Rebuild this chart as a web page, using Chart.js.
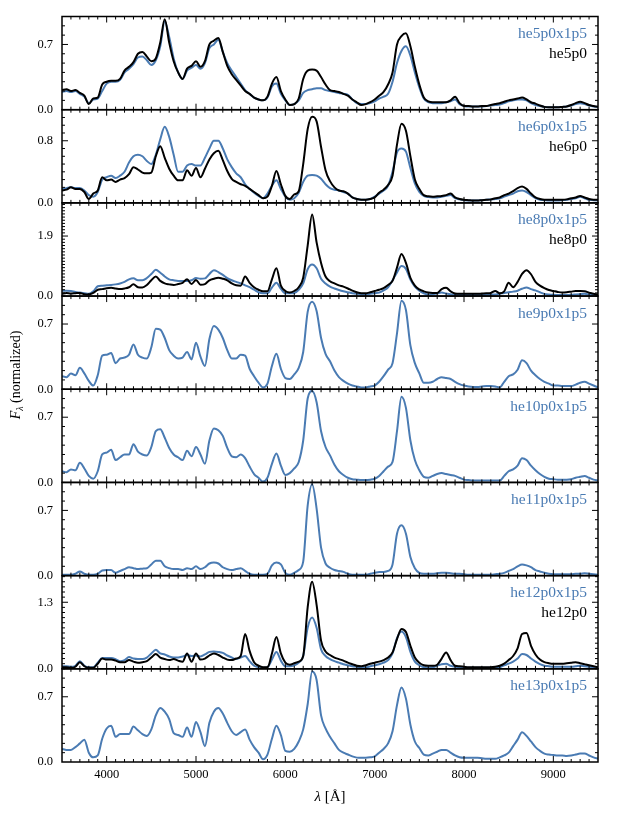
<!DOCTYPE html>
<html lang="en">
<head>
    <meta charset="UTF-8">
    <title>Spectra</title>
    <script src="https://cdn.jsdelivr.net/npm/chart.js"></script>
    <style>
        body { margin: 0; background: #fff; }
        canvas { display: block; }
    </style>
</head>
<body>
    <canvas id="myChart" width="623" height="830"></canvas>
<script>
    // wavelength grid in Angstrom
    var wavelength = [
        3500, 3550, 3600, 3650, 3700, 3750, 3800, 3850, 3900, 3950,
        4000, 4050, 4100, 4150, 4200, 4250, 4300, 4350, 4400, 4450,
        4500, 4550, 4600, 4650, 4700, 4750, 4800, 4850, 4900, 4950,
        5000, 5050, 5100, 5150, 5200, 5250, 5300, 5350, 5400, 5450,
        5500, 5550, 5600, 5650, 5700, 5750, 5800, 5850, 5900, 5950,
        6000, 6050, 6100, 6150, 6200, 6250, 6300, 6350, 6400, 6450,
        6500, 6550, 6600, 6650, 6700, 6750, 6800, 6850, 6900, 6950,
        7000, 7050, 7100, 7150, 7200, 7250, 7300, 7350, 7400, 7450,
        7500, 7550, 7600, 7650, 7700, 7750, 7800, 7850, 7900, 7950,
        8000, 8050, 8100, 8150, 8200, 8250, 8300, 8350, 8400, 8450,
        8500, 8550, 8600, 8650, 8700, 8750, 8800, 8850, 8900, 8950,
        9000, 9050, 9100, 9150, 9200, 9250, 9300, 9350, 9400, 9450,
        9500
    ];

    var he5p0x1p5 = [
        0.19,0.20,0.19,0.20,0.17,0.14,0.07,0.11,0.12,0.20,
        0.28,0.30,0.30,0.32,0.40,0.44,0.49,0.56,0.57,0.53,
        0.48,0.53,0.68,0.95,0.78,0.55,0.40,0.33,0.42,0.45,
        0.48,0.44,0.50,0.66,0.70,0.75,0.62,0.50,0.42,0.35,
        0.28,0.21,0.17,0.13,0.11,0.10,0.13,0.25,0.28,0.17,
        0.10,0.05,0.06,0.10,0.18,0.21,0.22,0.23,0.23,0.21,
        0.20,0.19,0.18,0.17,0.16,0.11,0.07,0.06,0.06,0.07,
        0.09,0.12,0.14,0.17,0.30,0.50,0.63,0.68,0.58,0.40,
        0.24,0.12,0.08,0.07,0.07,0.07,0.08,0.09,0.11,0.06,
        0.04,0.035,0.035,0.035,0.035,0.04,0.045,0.05,0.055,0.07,
        0.09,0.10,0.11,0.11,0.10,0.07,0.05,0.04,0.03,0.025,
        0.025,0.025,0.03,0.035,0.045,0.06,0.07,0.06,0.045,0.035,
        0.03
    ];
    var he5p0 = [
        0.21,0.22,0.20,0.21,0.18,0.15,0.06,0.12,0.13,0.27,
        0.30,0.31,0.31,0.33,0.42,0.46,0.51,0.60,0.62,0.57,
        0.52,0.55,0.72,0.97,0.72,0.52,0.40,0.33,0.44,0.47,
        0.52,0.46,0.52,0.70,0.74,0.77,0.62,0.47,0.38,0.32,
        0.26,0.20,0.17,0.13,0.11,0.10,0.14,0.28,0.35,0.20,
        0.11,0.05,0.06,0.12,0.33,0.42,0.43,0.42,0.35,0.27,
        0.21,0.20,0.19,0.17,0.15,0.11,0.08,0.05,0.06,0.08,
        0.11,0.15,0.19,0.27,0.40,0.70,0.79,0.82,0.68,0.46,
        0.27,0.13,0.09,0.08,0.08,0.08,0.08,0.10,0.14,0.07,
        0.04,0.04,0.035,0.035,0.04,0.04,0.05,0.06,0.07,0.085,
        0.10,0.11,0.12,0.13,0.11,0.08,0.065,0.045,0.03,0.025,
        0.025,0.025,0.03,0.035,0.05,0.07,0.085,0.07,0.05,0.04,
        0.03
    ];
    var he6p0x1p5 = [
        0.18,0.19,0.20,0.19,0.19,0.16,0.10,0.08,0.14,0.30,
        0.33,0.35,0.32,0.35,0.40,0.52,0.60,0.62,0.60,0.54,
        0.50,0.62,0.82,0.98,0.85,0.62,0.40,0.40,0.48,0.50,
        0.48,0.48,0.58,0.70,0.80,0.80,0.70,0.56,0.46,0.38,
        0.33,0.24,0.18,0.13,0.09,0.06,0.12,0.22,0.29,0.18,
        0.08,0.04,0.06,0.13,0.27,0.35,0.36,0.35,0.31,0.24,
        0.19,0.17,0.16,0.14,0.12,0.07,0.05,0.04,0.04,0.05,
        0.08,0.12,0.16,0.22,0.40,0.65,0.70,0.66,0.45,0.25,
        0.14,0.09,0.075,0.07,0.07,0.08,0.09,0.10,0.06,0.045,
        0.035,0.03,0.03,0.03,0.035,0.04,0.045,0.05,0.06,0.08,
        0.10,0.12,0.15,0.16,0.14,0.10,0.06,0.04,0.035,0.03,
        0.03,0.03,0.035,0.04,0.05,0.06,0.08,0.06,0.04,0.035,
        0.03
    ];
    var he6p0 = [
        0.16,0.17,0.20,0.18,0.18,0.14,0.05,0.12,0.16,0.33,
        0.29,0.30,0.27,0.30,0.32,0.37,0.46,0.43,0.39,0.38,
        0.39,0.60,0.73,0.58,0.44,0.35,0.29,0.29,0.42,0.35,
        0.45,0.33,0.44,0.56,0.64,0.67,0.55,0.41,0.31,0.27,
        0.24,0.22,0.18,0.14,0.10,0.06,0.08,0.22,0.41,0.24,
        0.09,0.05,0.11,0.15,0.50,0.95,1.11,1.05,0.72,0.42,
        0.28,0.20,0.16,0.15,0.12,0.07,0.05,0.04,0.04,0.05,
        0.07,0.13,0.17,0.23,0.35,0.75,1.02,0.93,0.60,0.30,
        0.18,0.10,0.085,0.08,0.085,0.09,0.10,0.12,0.07,0.05,
        0.04,0.035,0.03,0.03,0.035,0.04,0.045,0.06,0.07,0.10,
        0.12,0.15,0.19,0.21,0.18,0.12,0.07,0.05,0.04,0.04,
        0.04,0.04,0.04,0.045,0.06,0.07,0.09,0.07,0.05,0.04,
        0.04
    ];
    var he8p0x1p5 = [
        0.17,0.17,0.16,0.13,0.11,0.09,0.07,0.15,0.31,0.33,
        0.34,0.35,0.37,0.40,0.45,0.53,0.56,0.50,0.50,0.57,
        0.70,0.83,0.74,0.62,0.53,0.50,0.48,0.48,0.48,0.50,
        0.57,0.55,0.56,0.70,0.82,0.76,0.67,0.57,0.50,0.45,
        0.40,0.34,0.28,0.20,0.12,0.09,0.09,0.27,0.42,0.23,
        0.09,0.09,0.10,0.20,0.40,0.85,1.00,0.88,0.55,0.40,
        0.30,0.24,0.19,0.15,0.12,0.09,0.07,0.055,0.05,0.07,
        0.09,0.11,0.18,0.28,0.50,0.75,0.95,0.86,0.52,0.30,
        0.17,0.09,0.05,0.06,0.08,0.11,0.08,0.06,0.04,0.03,
        0.03,0.03,0.03,0.03,0.035,0.04,0.045,0.05,0.07,0.10,
        0.12,0.14,0.17,0.23,0.27,0.22,0.18,0.12,0.07,0.05,
        0.04,0.035,0.03,0.035,0.04,0.05,0.06,0.07,0.05,0.035,
        0.03
    ];
    var he8p0 = [
        0.07,0.10,0.08,0.09,0.10,0.06,0.05,0.10,0.20,0.22,
        0.25,0.26,0.24,0.22,0.24,0.28,0.37,0.28,0.27,0.35,
        0.50,0.62,0.48,0.40,0.37,0.35,0.38,0.42,0.53,0.38,
        0.51,0.36,0.38,0.50,0.55,0.58,0.55,0.50,0.40,0.34,
        0.33,0.62,0.42,0.28,0.20,0.15,0.15,0.53,0.88,0.33,
        0.16,0.11,0.16,0.28,0.58,1.60,2.58,1.70,1.05,0.62,
        0.47,0.40,0.34,0.30,0.24,0.17,0.12,0.09,0.09,0.12,
        0.16,0.20,0.25,0.35,0.48,0.90,1.33,1.05,0.58,0.33,
        0.21,0.15,0.11,0.10,0.10,0.22,0.26,0.15,0.08,0.07,
        0.07,0.07,0.07,0.07,0.08,0.09,0.10,0.16,0.09,0.15,
        0.42,0.28,0.45,0.70,0.82,0.69,0.45,0.33,0.25,0.19,
        0.16,0.13,0.11,0.12,0.14,0.16,0.16,0.15,0.11,0.07,
        0.05
    ];
    var he9p0x1p5 = [
        0.14,0.13,0.17,0.15,0.23,0.17,0.09,0.04,0.15,0.36,
        0.37,0.39,0.28,0.33,0.34,0.37,0.48,0.37,0.34,0.33,
        0.45,0.65,0.64,0.55,0.42,0.36,0.33,0.34,0.40,0.32,
        0.50,0.35,0.25,0.54,0.68,0.64,0.55,0.42,0.33,0.33,
        0.37,0.36,0.22,0.14,0.07,0.02,0.06,0.25,0.38,0.22,
        0.12,0.11,0.16,0.23,0.40,0.83,0.94,0.84,0.55,0.38,
        0.30,0.20,0.13,0.09,0.06,0.04,0.03,0.02,0.02,0.03,
        0.04,0.08,0.14,0.21,0.28,0.60,0.95,0.85,0.47,0.28,
        0.17,0.07,0.07,0.08,0.11,0.13,0.12,0.11,0.08,0.055,
        0.04,0.03,0.025,0.025,0.03,0.035,0.035,0.03,0.02,0.08,
        0.14,0.16,0.21,0.31,0.28,0.20,0.15,0.11,0.08,0.06,
        0.04,0.04,0.035,0.035,0.035,0.05,0.07,0.08,0.06,0.04,
        0.02
    ];
    var he10p0x1p5 = [
        0.12,0.11,0.14,0.13,0.21,0.15,0.07,0.04,0.12,0.30,
        0.32,0.35,0.24,0.27,0.30,0.30,0.41,0.33,0.30,0.29,
        0.38,0.55,0.57,0.48,0.37,0.30,0.27,0.24,0.34,0.28,
        0.38,0.30,0.20,0.45,0.58,0.56,0.50,0.37,0.28,0.27,
        0.30,0.26,0.17,0.09,0.05,0.01,0.05,0.20,0.31,0.18,
        0.08,0.10,0.15,0.22,0.45,0.90,0.98,0.86,0.55,0.38,
        0.29,0.19,0.12,0.08,0.05,0.035,0.03,0.025,0.025,0.03,
        0.04,0.07,0.12,0.17,0.22,0.55,0.92,0.80,0.45,0.24,
        0.13,0.06,0.05,0.07,0.09,0.10,0.09,0.08,0.07,0.05,
        0.03,0.025,0.02,0.02,0.02,0.02,0.02,0.02,0.02,0.07,
        0.12,0.14,0.18,0.26,0.24,0.18,0.13,0.09,0.06,0.04,
        0.035,0.03,0.03,0.03,0.035,0.05,0.06,0.07,0.05,0.03,
        0.02
    ];
    var he11p0x1p5 = [
        0.01,0.01,0.01,0.02,0.045,0.02,0.01,0.01,0.02,0.055,
        0.06,0.06,0.03,0.05,0.07,0.09,0.08,0.07,0.075,0.08,
        0.12,0.16,0.16,0.10,0.08,0.07,0.07,0.06,0.08,0.07,
        0.10,0.07,0.09,0.13,0.14,0.13,0.09,0.07,0.06,0.07,
        0.08,0.05,0.02,0.01,0.01,0.01,0.02,0.11,0.14,0.12,
        0.03,0.01,0.03,0.06,0.15,0.75,0.98,0.72,0.30,0.13,
        0.085,0.06,0.05,0.04,0.02,0.01,0.01,0.01,0.01,0.02,
        0.03,0.04,0.04,0.05,0.12,0.45,0.54,0.45,0.20,0.08,
        0.03,0.02,0.02,0.02,0.025,0.03,0.03,0.025,0.02,0.02,
        0.015,0.01,0.01,0.01,0.01,0.01,0.01,0.015,0.02,0.03,
        0.05,0.07,0.10,0.12,0.11,0.09,0.06,0.045,0.03,0.02,
        0.015,0.015,0.015,0.015,0.015,0.02,0.02,0.025,0.02,0.015,
        0.01
    ];
    var he12p0x1p5 = [
        0.05,0.05,0.04,0.06,0.15,0.06,0.03,0.03,0.12,0.21,
        0.21,0.21,0.19,0.15,0.17,0.23,0.20,0.19,0.19,0.22,
        0.30,0.37,0.30,0.28,0.24,0.22,0.22,0.24,0.27,0.25,
        0.26,0.24,0.28,0.33,0.34,0.33,0.31,0.26,0.22,0.19,
        0.22,0.25,0.15,0.06,0.03,0.02,0.03,0.18,0.33,0.16,
        0.05,0.05,0.07,0.12,0.25,0.80,1.00,0.80,0.38,0.25,
        0.19,0.15,0.12,0.09,0.07,0.05,0.04,0.03,0.03,0.05,
        0.07,0.09,0.12,0.17,0.30,0.60,0.73,0.62,0.33,0.14,
        0.07,0.03,0.02,0.03,0.06,0.09,0.10,0.06,0.04,0.03,
        0.02,0.02,0.02,0.02,0.02,0.02,0.02,0.02,0.03,0.07,
        0.10,0.14,0.20,0.29,0.27,0.20,0.14,0.09,0.06,0.05,
        0.04,0.04,0.04,0.04,0.04,0.05,0.06,0.05,0.04,0.03,
        0.02
    ];
    var he12p0 = [
        0.03,0.03,0.02,0.04,0.13,0.05,0.02,0.02,0.10,0.20,
        0.18,0.18,0.16,0.13,0.13,0.17,0.14,0.12,0.13,0.15,
        0.22,0.29,0.22,0.19,0.17,0.19,0.16,0.14,0.30,0.14,
        0.30,0.18,0.20,0.26,0.30,0.27,0.22,0.18,0.17,0.20,
        0.25,0.68,0.35,0.13,0.06,0.03,0.03,0.30,0.62,0.30,
        0.12,0.08,0.11,0.14,0.25,1.20,1.70,1.25,0.55,0.34,
        0.27,0.22,0.19,0.16,0.12,0.09,0.06,0.05,0.07,0.10,
        0.12,0.14,0.17,0.22,0.32,0.58,0.78,0.72,0.45,0.22,
        0.12,0.07,0.06,0.06,0.08,0.20,0.32,0.17,0.06,0.05,
        0.04,0.03,0.03,0.03,0.03,0.03,0.03,0.04,0.06,0.10,
        0.17,0.25,0.40,0.68,0.70,0.45,0.28,0.18,0.13,0.11,
        0.10,0.10,0.10,0.11,0.12,0.13,0.11,0.09,0.07,0.05,
        0.03
    ];
    var he13p0x1p5 = [
        0.14,0.13,0.13,0.16,0.20,0.24,0.10,0.05,0.07,0.25,
        0.36,0.39,0.27,0.30,0.30,0.30,0.38,0.34,0.30,0.28,
        0.35,0.50,0.58,0.54,0.46,0.31,0.29,0.27,0.37,0.27,
        0.43,0.32,0.17,0.42,0.54,0.58,0.52,0.42,0.33,0.29,
        0.32,0.35,0.24,0.16,0.10,0.03,0.08,0.25,0.39,0.29,
        0.12,0.11,0.14,0.22,0.35,0.62,0.97,0.88,0.50,0.36,
        0.27,0.20,0.13,0.10,0.08,0.06,0.047,0.045,0.045,0.05,
        0.06,0.10,0.14,0.20,0.33,0.61,0.80,0.68,0.40,0.22,
        0.15,0.08,0.07,0.09,0.11,0.13,0.13,0.10,0.07,0.05,
        0.045,0.045,0.045,0.045,0.04,0.035,0.035,0.035,0.05,0.07,
        0.10,0.17,0.24,0.32,0.28,0.22,0.16,0.12,0.09,0.08,
        0.075,0.07,0.07,0.065,0.07,0.08,0.09,0.09,0.07,0.05,
        0.036
    ];

    // one entry per panel, top to bottom
    var panelNames = ['he5p0x1p5', 'he6p0x1p5', 'he8p0x1p5', 'he9p0x1p5',
                      'he10p0x1p5', 'he11p0x1p5', 'he12p0x1p5', 'he13p0x1p5'];
    var panelBlue = [he5p0x1p5, he6p0x1p5, he8p0x1p5, he9p0x1p5,
                     he10p0x1p5, he11p0x1p5, he12p0x1p5, he13p0x1p5];
    var compNames = ['he5p0', 'he6p0', 'he8p0', null, null, null, 'he12p0', null];
    var compBlack = [he5p0, he6p0, he8p0, null, null, null, he12p0, null];
    var panelMax = [1.0, 1.2, 2.95, 1.0, 1.0, 1.0, 1.82, 1.0];
    var panelTick = [0.7, 0.8, 1.9, 0.7, 0.7, 0.7, 1.3, 0.7];
    var xTicks = [4000, 5000, 6000, 7000, 8000, 9000];

    var FONT = '"Liberation Serif", "DejaVu Serif", serif';
    var BLUE = '#4a7bb3';

    function toPoints(vals){
        return wavelength.map(function(w, j){ return {x: w, y: vals[j]}; });
    }

    var datasets = [];
    var scales = {
        x: {
            type: 'linear', position: 'bottom', min: 3500, max: 9500,
            afterBuildTicks: function(ax){ ax.ticks = xTicks.map(function(v){ return {value: v}; }); },
            afterFit: function(ax){ ax.height = 24; },
            grid: {display: false, drawTicks: false},
            border: {display: false},
            ticks: {
                color: '#000', padding: 5, maxRotation: 0, autoSkip: false,
                font: {family: FONT, size: 12.5},
                callback: function(v){ return String(v); }
            }
        }
    };

    // stacked axes are laid out bottom-up, so add the bottom panel first
    for (var i = panelMax.length - 1; i >= 0; i--) {
        (function(i){
            scales['y' + i] = {
                type: 'linear', position: 'left', stack: 'panels', stackWeight: 1, offset: false,
                min: 0, max: panelMax[i],
                afterBuildTicks: function(ax){ ax.ticks = [{value: 0}, {value: panelTick[i]}]; },
                afterFit: function(ax){ ax.width = 62; },
                grid: {display: false, drawTicks: false},
                border: {display: false},
                ticks: {
                    color: '#000', padding: 9, autoSkip: false,
                    font: {family: FONT, size: 12.5},
                    callback: function(v){ return v.toFixed(1); }
                }
            };
        })(i);
    }

    panelMax.forEach(function(m, i){
        if (compBlack[i]) {
            datasets.push({
                label: compNames[i], data: toPoints(compBlack[i]), yAxisID: 'y' + i,
                borderColor: '#000', borderWidth: 2, pointRadius: 0,
                cubicInterpolationMode: 'monotone', order: 0
            });
        }
        datasets.push({
            label: panelNames[i], data: toPoints(panelBlue[i]), yAxisID: 'y' + i,
            borderColor: BLUE, borderWidth: 2, pointRadius: 0,
            cubicInterpolationMode: 'monotone', order: 1
        });
    });

    // frames, inward ticks, panel labels and axis titles
    var framePlugin = {
        id: 'frames',
        afterDatasetsDraw: function(chart){
            var ctx = chart.ctx;
            var area = chart.chartArea;
            var xs = chart.scales.x;
            ctx.save();
            panelMax.forEach(function(m, i){
                var ys = chart.scales['y' + i];
                var top = ys.top, bottom = ys.bottom;
                ctx.strokeStyle = '#000';
                ctx.lineWidth = 1;
                ctx.beginPath();
                for (var w = 3600; w < 9500; w += 100) {
                    var px = xs.getPixelForValue(w);
                    var len = (w % 1000 === 0) ? 6 : 3;
                    ctx.moveTo(px, bottom); ctx.lineTo(px, bottom - len);
                    ctx.moveTo(px, top); ctx.lineTo(px, top + len);
                }
                var n = Math.floor(m * 10 + 1e-6);
                for (var k = 1; k <= n; k++) {
                    var v = k / 10;
                    var py = ys.getPixelForValue(v);
                    var l2 = (Math.abs(v - panelTick[i]) < 1e-6) ? 6 : 3;
                    ctx.moveTo(area.left, py); ctx.lineTo(area.left + l2, py);
                    ctx.moveTo(area.right, py); ctx.lineTo(area.right - l2, py);
                }
                ctx.stroke();
                ctx.lineWidth = 1.5;
                ctx.strokeRect(area.left, top, area.right - area.left, bottom - top);

                ctx.font = '15.5px ' + FONT;
                ctx.textAlign = 'right';
                ctx.textBaseline = 'middle';
                ctx.fillStyle = BLUE;
                ctx.fillText(panelNames[i], area.right - 11, top + 17.5);
                if (compNames[i]) {
                    ctx.fillStyle = '#000';
                    ctx.fillText(compNames[i], area.right - 11, top + 37);
                }
            });

            // x title: lambda [A]
            ctx.fillStyle = '#000';
            ctx.textBaseline = 'middle';
            ctx.textAlign = 'left';
            var t1 = 'λ', t2 = ' [Å]';
            ctx.font = 'italic 15px ' + FONT;
            var w1 = ctx.measureText(t1).width;
            ctx.font = '15px ' + FONT;
            var w2 = ctx.measureText(t2).width;
            var cx = (area.left + area.right) / 2;
            var sx = cx - (w1 + w2) / 2;
            ctx.font = 'italic 15px ' + FONT;
            ctx.fillText(t1, sx, 797);
            ctx.font = '15px ' + FONT;
            ctx.fillText(t2, sx + w1, 797);

            // y title: F_lambda (normalized)
            ctx.save();
            ctx.translate(16, 375);
            ctx.rotate(-Math.PI / 2);
            ctx.font = 'italic 14px ' + FONT;
            var a = ctx.measureText('F').width;
            ctx.font = 'italic 10px ' + FONT;
            var b = ctx.measureText('λ').width;
            ctx.font = '14px ' + FONT;
            var c = ctx.measureText(' (normalized)').width;
            var s = -(a + b + c) / 2;
            ctx.font = 'italic 14px ' + FONT;
            ctx.fillText('F', s, 0);
            ctx.font = 'italic 10px ' + FONT;
            ctx.fillText('λ', s + a, 4);
            ctx.font = '14px ' + FONT;
            ctx.fillText(' (normalized)', s + a + b, 0);
            ctx.restore();
            ctx.restore();
        }
    };

    new Chart(document.querySelector('#myChart'), {
        type: 'line',
        data: {datasets: datasets},
        options: {
            responsive: false,
            animation: false,
            parsing: false,
            normalized: true,
            layout: {padding: {left: 0, right: 25, top: 15.7, bottom: 44}},
            scales: scales,
            plugins: {legend: {display: false}, tooltip: {enabled: false}}
        },
        plugins: [framePlugin]
    });
</script>
</body>
</html>
